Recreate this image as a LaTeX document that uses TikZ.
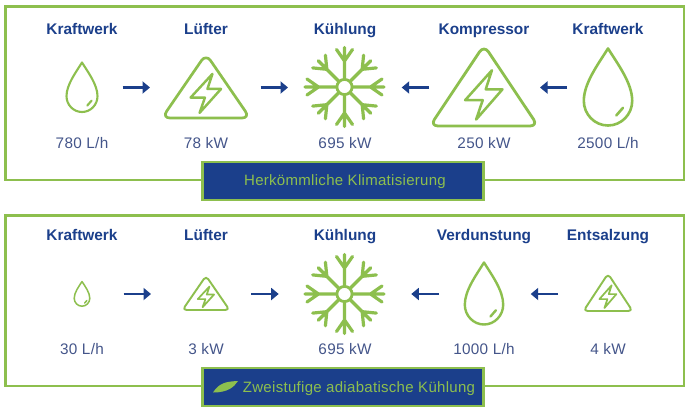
\documentclass[tikz,border=0pt]{standalone}
\usepackage{fontspec}
\setmainfont{Liberation Sans}
\usetikzlibrary{arrows.meta}
\definecolor{lgreen}{HTML}{8DBF4E}
\definecolor{navy}{HTML}{1B3F8B}
\definecolor{valc}{HTML}{44558A}
\newfontfamily\spaced[LetterSpace=2]{Liberation Sans}
\tikzset{
  x=1pt,y=-1pt,
  frame/.style={draw=lgreen,line width=2.6pt},
  banner/.style={draw=lgreen,fill=navy,line width=2.8pt},
  bannertext/.style={text=lgreen,font=\spaced\fontsize{15}{18}\selectfont,anchor=base,inner sep=0pt},
  title/.style={text=navy,font=\fontsize{15.4}{18}\selectfont\bfseries,inner sep=0pt,anchor=base},
  val/.style={text=valc,font=\spaced\fontsize{15.3}{18}\selectfont,inner sep=0pt,anchor=base},
  flow/.style={draw=navy,line width=2.5pt,-{Triangle[length=7.5pt,width=12pt]}},
  icon/.style={draw=lgreen,line join=round,line cap=round},
}
% drop: #1 x, #2 tip y, #3 half width, #4 height, #5 line width
\newcommand{\dropicon}[5]{%
  \begin{scope}[shift={(#1,#2)},xscale=#3,yscale=#4]
    \draw[icon,line width=#5pt] (0,0) .. controls (-.4,.2) and (-1,.45) .. (-1,.68)
      .. controls (-1,.856) and (-.55,1) .. (0,1)
      .. controls (.55,1) and (1,.856) .. (1,.68)
      .. controls (1,.45) and (.4,.2) .. (0,0) -- cycle;
    \draw[icon,line width=#5pt] (.34,.87) -- (.62,.77);
  \end{scope}}
% warning triangle: #1 x, #2 apex y, #3 width, #4 height, #5 line width, #6 corner radius
\newcommand{\warnicon}[6]{%
  \begin{scope}[shift={(#1,#2)},xscale=#3,yscale=#4]
    \draw[icon,line width=#5pt,rounded corners=#6pt] (0,-.05) -- (.5,1) -- (-.5,1) -- cycle;
    \draw[icon,line width=.9*#5pt] (.073,.277) -- (-.175,.665) -- (-.012,.665) -- (-.073,.916)
      -- (.171,.524) -- (.016,.524) -- cycle;
  \end{scope}}
% snowflake: #1 x, #2 y
\newcommand{\flakeicon}[2]{%
  \begin{scope}[shift={(#1,#2)}]
    \draw[icon,line width=2.8pt] (0,0) circle (7.6);
    \foreach \a in {0,90,180,270}{
      \begin{scope}[rotate=\a]
        \draw[icon,line width=3.2pt] (8,0) -- (39.5,0) (26,0) -- (37.5,-8) (26,0) -- (37.5,8);
      \end{scope}}
    \foreach \a in {45,135,225,315}{
      \begin{scope}[rotate=\a]
        \draw[icon,line width=3.2pt] (8,0) -- (37,0) (25,0) -- (36,-9) (25,0) -- (36,9);
      \end{scope}}
  \end{scope}}
\begin{document}
\begin{tikzpicture}
\useasboundingbox[fill=white] (0,0) rectangle (690,412);
% top panel
\node[draw=none,inner sep=0pt] (f1a) at (5.7,6.5) {};
\node[draw=none,inner sep=0pt] (f1b) at (684,180) {};
\draw[frame] (f1a.center) rectangle (f1b.center);
\draw[banner] (202.5,162) rectangle (483.5,200);
\node[bannertext] (b1) at (345,185.5) {Herkömmliche Klimatisierung};
\node[title] (t11) at (82,34.5) {Kraftwerk};
\node[title] (t12) at (206,34.5) {Lüfter};
\node[title] (t13) at (345,34.5) {Kühlung};
\node[title] (t14) at (484,34.5) {Kompressor};
\node[title] (t15) at (608,34.5) {Kraftwerk};
\node[val] (v11) at (82,148.5) {780 L/h};
\node[val] (v12) at (206,148.5) {78 kW};
\node[val] (v13) at (345,148.5) {695 kW};
\node[val] (v14) at (484,148.5) {250 kW};
\node[val] (v15) at (608,148.5) {2500 L/h};
\dropicon{82}{62.5}{15.5}{49.5}{2.1}
\warnicon{206}{57}{88}{61}{2.7}{8}
\flakeicon{344.5}{87}
\warnicon{484}{49}{108}{77}{2.8}{8}
\dropicon{608}{48.5}{24.2}{77}{2.6}
\coordinate (a11s) at (122.7,87.5); \coordinate (a11e) at (150,87.5);
\coordinate (a12s) at (260.7,87.5); \coordinate (a12e) at (288,87.5);
\coordinate (a13s) at (429,87.5); \coordinate (a13e) at (401.7,87.5);
\coordinate (a14s) at (567,87.5); \coordinate (a14e) at (540,87.5);
\draw[flow] (a11s) -- (a11e);
\draw[flow] (a12s) -- (a12e);
\draw[flow] (a13s) -- (a13e);
\draw[flow] (a14s) -- (a14e);
% bottom panel
\node[draw=none,inner sep=0pt] (f2a) at (5.7,215.7) {};
\node[draw=none,inner sep=0pt] (f2b) at (684,386) {};
\draw[frame] (f2a.center) rectangle (f2b.center);
\draw[banner] (202.5,368) rectangle (483.5,406);
\node[bannertext,anchor=base west] (b2) at (242.7,392.3) {Zweistufige adiabatische Kühlung};
\fill[lgreen] (213,392.5) .. controls (219,383) and (226,381.5) .. (238,381)
  .. controls (234,387) and (228,392.5) .. (213,392.5) -- cycle;
\node[title] (t21) at (82,240.7) {Kraftwerk};
\node[title] (t22) at (206,240.7) {Lüfter};
\node[title] (t23) at (345,240.7) {Kühlung};
\node[title] (t24) at (484,240.7) {Verdunstung};
\node[title] (t25) at (608,240.7) {Entsalzung};
\node[val] (v21) at (82,354.7) {30 L/h};
\node[val] (v22) at (206,354.7) {3 kW};
\node[val] (v23) at (345,354.7) {695 kW};
\node[val] (v24) at (484,354.7) {1000 L/h};
\node[val] (v25) at (608,354.7) {4 kW};
\dropicon{82}{281.5}{7.8}{24.7}{1.5}
\warnicon{206}{277.5}{47}{32.5}{1.9}{4}
\flakeicon{344.5}{294}
\dropicon{484}{262.5}{19.2}{62}{2.4}
\warnicon{608}{275.5}{49}{35.5}{1.9}{4}
\coordinate (a21s) at (123.7,294); \coordinate (a21e) at (151,294);
\coordinate (a22s) at (251.3,294); \coordinate (a22e) at (278.7,294);
\coordinate (a23s) at (439,294); \coordinate (a23e) at (411.3,294);
\coordinate (a24s) at (558,294); \coordinate (a24e) at (530.7,294);
\draw[flow] (a21s) -- (a21e);
\draw[flow] (a22s) -- (a22e);
\draw[flow] (a23s) -- (a23e);
\draw[flow] (a24s) -- (a24e);
\end{tikzpicture}
\end{document}
